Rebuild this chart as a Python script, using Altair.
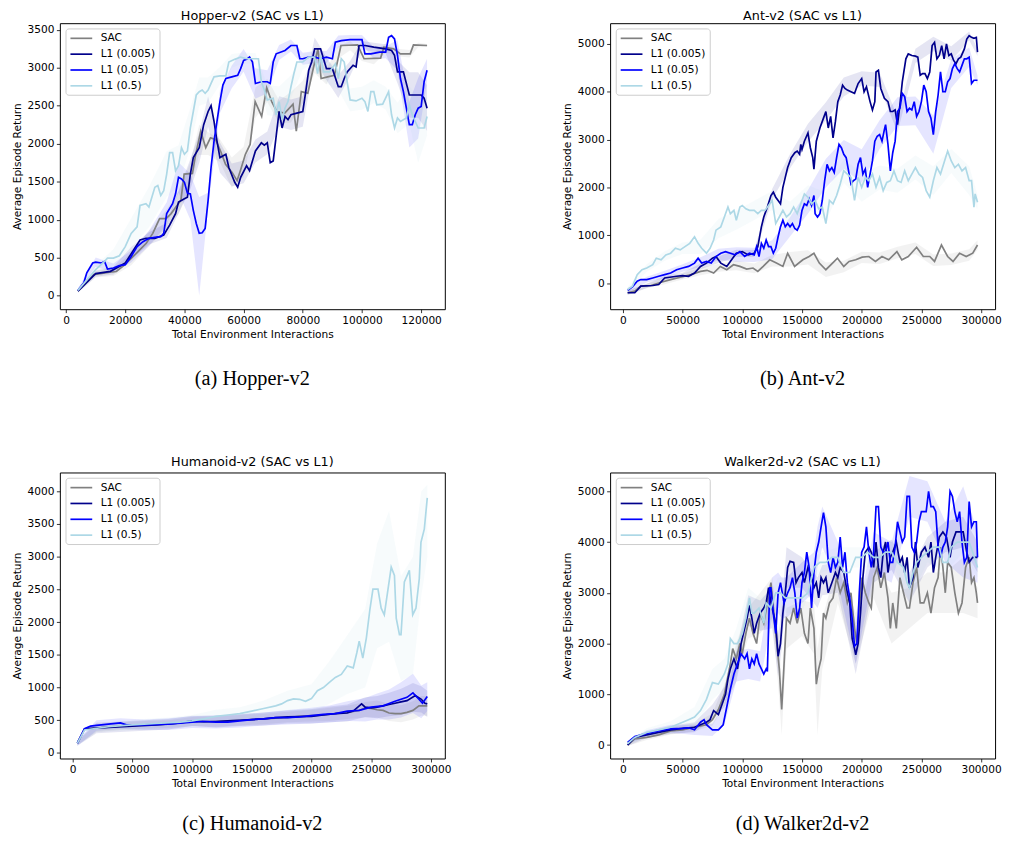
import altair as alt
import pandas as pd

SERIES = ["SAC", "L1 (0.005)", "L1 (0.05)", "L1 (0.5)"]
COLORS = ["#808080", "#00008b", "#0000ff", "#add8e6"]
XTITLE = "Total Environment Interactions"
YTITLE = "Average Episode Return"

HOP_SAC = [(4,60),(9.3,277),(14.8,308),(17,318),(19.9,408),(23.8,560),(27.1,690),(29.3,820),(31.6,1015),
           (33.8,1015),(35.5,1080),(37.1,1167),(38.8,1253),(39.9,1600),(42.7,1609),(43.8,1860),(45.5,2164),
           (47.2,1947),(48.8,2077),(50.5,2056),(52.2,1904),(53.9,1730),(56.1,1622),(57.8,1514),(58.9,1644),
           (60.6,1860),(62.2,1990),(63.9,2554),(66.1,2359),(67.8,2737),(69.5,2554),(71.2,2424),(73.9,2403),
           (76.7,2520),(77.8,2164),(79.5,2685),(81.7,2663),(83.4,2967),(85.1,3248),(86.2,2858),(88.4,2880),
           (90.7,2901),(92.9,3292),(98.5,3300),(100.7,3118),(106.3,3127),(107.4,3270),(110.7,3248),(113,3183),
           (116.3,3183),(117.4,3300),(122,3292)]
HOP_D = [(4,60),(10,290),(15,320),(20,430),(25,733),(27,755),(30,755),(33,798),(35,928),(37,1080),(38,1232),
         (40,1275),(41,1297),(42,1600),(43,1817),(45,1947),(46.5,2251),(48,2424),(49,2502),(50,2294),(51,2034),
         (52,1817),(54,1860),(55,1687),(57,1492),(58,1427),(59,1557),(61,1709),(62,1644),(64,1904),(66,2012),
         (67,1982),(68,2012),(69,1752),(70,1774),(72,2424),(73,2207),(74,2359),(75,2316),(76,2381),(78,2403),
         (80,2424),(81,2685),(82,2967),(83,3075),(84,3248),(86,3248),(88,2988),(90,2988),(92,2750),(93,2750),
         (94,2858),(95,2945),(97,3032),(98,3010),(99,3292),(101,3292),(104,3270),(108,3248),(110,3227),
         (111,3162),(112,2945),(114,2945),(116,2641),(120,2641),(121,2598),(122,2468)]
HOP_B = [(4,70),(6,170),(7,300),(9,430),(10,442),(12,430),(13,451),(14,351),(16,364),(18,395),(20,408),
         (22,516),(24,646),(26,711),(28,755),(30,768),(32,776),(33,820),(34,1080),(36,1210),(37,1340),(38,1557),
         (39,1535),(40,1492),(41,1349),(42,1340),(43,1123),(44,950),(45,820),(46,828),(47,885),(48,1253),
         (49,1687),(50,2034),(51,2294),(52,2554),(53,2771),(54,2858),(56,2880),(58,2901),(59,2988),(60,3097),
         (61,3110),(62,3140),(63,3075),(64,2793),(66,2815),(68,2815),(69,2793),(70,3075),(71,3183),(74,3227),
         (76,3292),(78,3292),(79,3118),(80,3118),(82,3140),(84,3140),(86,3118),(88,3140),(90,3118),(91,3335),
         (93,3357),(96,3370),(100,3370),(101,3183),(103,3183),(106,3205),(108,3205),(109,3400),(110,3422),
         (111,3378),(112,3162),(113,2858),(114,2685),(115,2468),(116,2251),(117,2251),(118,2381),(119,2468),
         (120,2489),(121,2815),(122,2967)]
HOP_L = [(4,70),(8,250),(10,343),(13,451),(14,494),(16,494),(18,525),(20,646),(22,820),(24,906),(25,1188),
         (27,1210),(28,1167),(30,1427),(31,1449),(32,1318),(33,1383),(34,1600),(35,1882),(36,1882),(37,1644),
         (38,1709),(39,1947),(40,1860),(41,1904),(42,2207),(43,2424),(44,2641),(45,2685),(46,2706),(47,2663),
         (48,2706),(49,2793),(50,2880),(52,2893),(54,2893),(55,3075),(57,3110),(59,3140),(61,3118),(63,3118),
         (65,3118),(66,2815),(67,2706),(68,2576),(70,2598),(71,2381),(72,2554),(73,2316),(74,2468),(75,2554),
         (76,2750),(77,2923),(78,3075),(80,3075),(82,3140),(84,3140),(85,2923),(86,3162),(87,2945),(89,2945),
         (91,3053),(92,2858),(93,3118),(94,3075),(95,2815),(96,2576),(98,2563),(100,2598),(101,2554),(102,2424),
         (103,2685),(104,2685),(105,2511),(107,2520),(109,2685),(110,2381),(111,2207),(112,2338),(113,2294),
         (115,2338),(116,2511),(117,2381),(119,2207),(121,2207),(122,2359)]
HOP_GRID = [4,10,16,22,28,34,38,42,45,48,52,56,60,64,68,72,76,80,84,88,92,96,100,104,108,112,116,119,122]
HOP_SAC_LO = [40,240,260,400,650,895,1070,1455,1850,1850,1760,1420,1560,2340,2550,2270,2280,2530,2930,2780,
              3120,3230,3090,3047,3200,3150,3133,3270,3272]
HOP_SAC_HI = [80,320,360,560,850,1135,1370,1755,2250,2150,2060,1820,1960,2740,2850,2570,2680,2830,3170,2980,
              3280,3350,3210,3207,3320,3250,3233,3330,3312]
HOP_D_LO = [40,250,280,480,675,760,1082,1400,1747,2224,1617,1440,1480,1754,1862,2224,2181,2224,3098,2838,
            2600,2890,3232,3210,3188,2795,2341,2341,2168]
HOP_D_HI = [80,330,380,640,835,960,1382,1800,2147,2624,2017,1740,1780,2054,2162,2624,2581,2624,3398,3138,
            2900,3090,3352,3330,3308,3095,2941,2941,2768]
HOP_B_LO = [50,382,304,436,655,930,1357,1000,0,1153,2404,2730,2947,2593,2665,3100,3212,3038,3060,3060,
            3265,3310,3310,3110,3125,2962,1951,2068,2817]
HOP_B_HI = [90,502,424,596,855,1230,1757,1600,1300,1353,2704,3030,3247,2993,2965,3300,3372,3198,3220,3220,
            3425,3430,3430,3270,3285,3362,2551,2868,3117]
HOP_L_LO = [50,283,380,620,900,1300,1450,1950,2500,2540,2780,3000,3060,3050,2376,2354,2600,2975,3060,2795,
            2708,2426,2448,2535,2450,2138,2261,1750,2109]
HOP_L_HI = [90,403,610,1020,1430,1900,1980,2470,2870,2870,3010,3180,3200,3190,2776,2754,2900,3175,3220,3095,
            3008,2726,2748,2835,2750,2538,2761,2600,2609]

ANT_SAC = [(4,-200),(10,-165),(15,-62),(23.5,-48),(32,20),(40,76),(48,124),(57,179),(65,248),(70.5,269),(76,213),
           (81.6,351),(87,282),(92.6,386),(98,351),(103.7,296),(109,317),(113,248),(117.5,351),(123,489),(128.6,420),
           (134,351),(138,627),(143.8,351),(150.7,489),(156,558),(160,627),(164.5,420),(170,282),(175.6,420),
           (179.7,523),(185,351),(189.4,455),(195,489),(200.4,544),(206,558),(211.5,455),(217,558),(222.6,489),
           (229.5,661),(233.6,489),(239,558),(246,751),(251.6,558),(257,558),(261,455),(266.8,799),(272,558),
           (276.5,455),(282,627),(287.5,558),(293,627),(297,799)]
ANT_D = [(4,-200),(10,-200),(15,-62),(25,-48),(30,-28),(35,110),(45,145),(50,158),(55,145),(60,213),(65,351),
         (70,420),(75,523),(78,558),(82,420),(87,351),(90,455),(95,627),(100,661),(105,592),(110,627),(113,764),
         (116,1178),(118,1384),(121,1591),(124,1832),(126,1901),(128,1797),(130,1729),(132,1660),(134,2004),
         (136,2211),(138,2417),(141,2624),(144,2727),(146,2762),(148,2693),(149,2900),(150,2796),(152,2968),
         (155,3140),(157,2831),(159,2624),(160,2383),(162,2968),(165,3244),(168,3450),(170,3588),(172,3244),
         (174,3485),(176,3037),(178,3381),(180,3795),(182,3933),(184,4139),(186,4070),(188,4036),(191,4001),
         (194,3967),(197,4173),(200,4277),(202,4001),(204,4105),(207,3795),(209,3622),(211,3795),(212,4415),
         (214,4449),(216,4070),(219,3864),(222,3795),(224,3588),(226,3588),(228,3622),(230,3313),(232,3726),
         (234,4208),(237,4690),(239,4793),(242,4759),(245,4745),(247,4724),(249,4346),(251,4380),(253,4380),
         (255,4277),(257,4415),(259,4966),(261,5034),(263,4690),(265,4759),(267,4966),(269,4690),(271,5000),
         (273,4759),(275,4793),(277,4656),(279,4587),(281,4690),(283,4724),(286,4897),(288,5103),(290,5172),
         (292,5138),(294,5117),(296,5138),(297,4828)]
ANT_B = [(4,-150),(8,-76),(12,41),(15,76),(20,76),(25,110),(30,145),(35,179),(40,213),(45,282),(50,317),(55,351),
         (60,420),(63,523),(66,420),(70,455),(74,420),(78,558),(82,627),(86,661),(90,627),(94,592),(98,661),
         (102,558),(106,627),(110,592),(112,764),(114,558),(116,833),(118,730),(120,902),(122,764),(124,764),
         (126,627),(128,730),(130,971),(132,1178),(134,1315),(136,1178),(138,1247),(140,1178),(142,1247),
         (144,1143),(146,1109),(148,1212),(150,1522),(152,1660),(154,1625),(156,1763),(158,1625),(160,1832),
         (161,1453),(163,1384),(165,1453),(167,1729),(169,2142),(171,2486),(173,2348),(175,2417),(177,2314),
         (179,2624),(181,2900),(183,2831),(185,2693),(187,2624),(189,2348),(191,2073),(193,2142),(195,2176),
         (197,2486),(199,2624),(201,2280),(203,2383),(205,2004),(207,2280),(209,2555),(211,2968),(213,3072),
         (215,3106),(217,2968),(219,3209),(220,3313),(222,2900),(224,2348),(226,2727),(228,2968),(230,3588),
         (232,3657),(234,3967),(236,3898),(238,3588),(240,3657),(242,3622),(244,3795),(246,3485),(248,3588),
         (250,3795),(252,4139),(254,4001),(256,3588),(258,3450),(260,3106),(262,3588),(264,3933),(266,4415),
         (268,4001),(270,4001),(272,4208),(274,4277),(276,4484),(278,4587),(280,4484),(282,4415),(284,4553),
         (286,4690),(288,4690),(290,4724),(292,4173),(294,4242),(297,4242)]
ANT_L = [(4,-130),(8,-62),(12,179),(16,282),(20,317),(25,386),(28,523),(32,489),(36,592),(40,627),(44,730),
         (48,696),(52,764),(56,833),(60,971),(63,833),(66,730),(70,627),(73,730),(76,902),(78,1109),(82,1178),
         (85,1384),(88,1591),(90,1453),(93,1522),(95,1315),(98,1591),(100,1625),(103,1556),(106,1522),(110,1522),
         (113,1453),(116,1522),(119,1522),(122,1625),(125,1729),(128,1247),(131,1384),(134,1522),(137,1384),
         (140,1453),(143,1591),(146,1453),(149,1660),(152,1866),(155,1797),(158,1660),(161,1729),(164,1556),
         (167,1591),(170,1247),(173,1729),(176,1660),(179,1832),(182,2073),(185,2348),(188,2280),(191,2211),
         (194,1729),(197,2211),(200,2004),(203,2211),(206,2142),(209,2280),(212,2004),(215,2211),(218,1935),
         (221,2107),(224,2142),(227,2348),(230,2142),(233,2107),(236,2348),(239,2142),(242,2280),(245,2417),
         (248,2280),(251,2211),(254,1935),(257,1797),(260,2142),(263,2417),(266,2280),(269,2521),(272,2762),
         (275,2555),(278,2417),(281,2486),(284,2348),(287,2417),(290,2142),(292,2142),(294,1591),(295,1866),
         (297,1694)]
ANT_GRID = [4,20,35,50,65,80,95,110,125,140,155,170,185,200,215,230,245,260,275,290,297]
ANT_SAC_LO = [-250,-105,-20,80,168,240,270,210,350,350,390,132,231,420,400,520,610,360,380,470,699]
ANT_SAC_HI = [-150,-5,100,200,328,400,470,410,590,650,690,432,471,660,640,760,850,600,620,710,899]
ANT_D_LO = [-240,-100,70,100,290,420,550,550,1750,2400,2950,3400,3900,4130,4100,3150,4600,4850,4650,5080,4750]
ANT_D_HI = [-160,-10,150,220,410,560,700,700,1970,2700,3330,3780,4300,4430,4400,3480,4900,5150,4950,5260,4900]
ANT_B_LO = [-200,16,99,237,340,480,450,442,500,978,1450,2000,2393,2100,2806,3288,3300,2706,4080,4524,4142]
ANT_B_HI = [-100,136,259,397,540,720,750,742,900,1378,1950,2600,2993,2800,3406,3888,3900,3506,4680,4924,4342]
ANT_L_LO = [-180,237,470,610,610,940,1115,1322,1529,1203,1547,1300,2098,1704,1961,1892,2167,1842,2305,1842,1544]
ANT_L_HI = [-80,397,670,850,910,1340,1515,1722,1929,1703,2047,1900,2598,2304,2461,2392,2667,2442,2805,2442,1844]

HUM_SAC = [(4,150),(10,370),(20,380),(40,410),(60,430),(80,440),(90,460),(100,480),(110,470),(120,480),(130,490),
           (140,500),(150,510),(160,520),(170,530),(180,540),(190,560),(200,570),(210,580),(220,600),(230,620),
           (240,650),(245,690),(250,680),(255,660),(260,650),(265,610),(270,600),(275,600),(280,620),(285,650),
           (290,720),(297,720)]
HUM_D = [(4,150),(10,370),(30,390),(50,410),(70,430),(90,460),(100,490),(110,480),(120,480),(130,490),(140,500),
         (150,510),(160,520),(170,540),(180,550),(190,555),(200,560),(210,580),(220,600),(230,610),(235,640),
         (242,750),(245,700),(250,690),(255,700),(260,720),(265,740),(270,760),(275,780),(280,800),(287,877),
         (292,820),(295,760),(297,750)]
HUM_B = [(4,150),(10,370),(15,410),(20,420),(30,440),(40,460),(45,430),(60,430),(80,440),(100,470),(110,480),
         (120,470),(130,470),(140,490),(150,510),(160,520),(170,540),(180,540),(190,550),(200,570),(210,590),
         (220,600),(230,640),(240,650),(250,700),(260,720),(270,790),(280,850),(285,917),(290,820),(293,760),
         (297,861)]
HUM_L = [(4,150),(10,350),(30,400),(50,430),(70,450),(90,470),(100,490),(110,520),(120,560),(130,580),(140,600),
         (150,640),(160,680),(170,720),(175,750),(180,800),(185,826),(190,820),(195,790),(200,830),(205,952),
         (210,1000),(215,1080),(220,1154),(225,1200),(230,1330),(235,1300),(238,1531),(240,1708),(243,1450),
         (246,1760),(249,2200),(251.5,2504),(255.7,2504),(258.4,2212),(261,2111),(262.6,2312),(265.4,2665),
         (266.8,2841),(269.5,2715),(271,2060),(273.7,1809),(275,1809),(277.8,2615),(282,2791),(284.8,2111),
         (287.5,2212),(290.3,2665),(291.7,3219),(294.5,3420),(297,3900)]
HUM_GRID = [4,20,40,60,80,100,120,140,160,180,200,215,230,245,255,265,275,285,292,297]
HUM_SAC_LO = [120,320,350,370,380,410,400,420,440,470,480,490,520,540,540,490,470,510,570,570]
HUM_SAC_HI = [180,440,470,490,500,550,560,580,600,630,660,690,720,780,800,750,730,790,870,870]
HUM_D_LO = [110,300,320,340,360,410,390,410,420,450,450,470,480,550,530,560,580,630,620,550]
HUM_D_HI = [190,460,480,500,520,570,570,590,620,650,670,710,740,850,870,920,980,1070,1020,950]
HUM_B_LO = [110,340,370,350,350,380,375,390,420,435,450,465,490,480,510,510,540,610,530,640]
HUM_B_HI = [190,500,530,510,530,560,575,590,620,655,690,725,790,840,910,970,1080,1210,1030,1080]
HUM_L_LO = [110,320,340,360,380,400,460,500,560,650,600,750,900,1000,1600,1700,1100,1200,2400,3000]
HUM_L_HI = [190,440,480,520,540,580,660,700,800,950,1050,1400,1800,2200,3200,3700,2700,3000,4000,4100]

WAL_SAC = [(4,0),(10,120),(20,150),(30,200),(40,280),(50,300),(60,350),(70,400),(75,500),(80,700),(85,1000),
           (90,1600),(92,1900),(95,1700),(98,2000),(100,1800),(103,2200),(106,2500),(109,2200),(112,2000),
           (115,2600),(118,2400),(121,2800),(124,3200),(126,2700),(128,2200),(131,1500),(133,700),(135,1600),
           (137,2500),(140,2400),(143,2700),(146,2400),(149,2700),(152,2200),(155,2000),(157,2700),(160,2300),
           (162,1200),(164,1500),(166,1700),(168,2600),(170,2500),(173,2800),(176,2900),(179,3300),(182,3000),
           (185,3200),(188,2800),(191,3000),(194,2300),(196,2000),(198,2700),(200,3300),(203,3000),(206,2800),
           (208,2700),(210,3300),(213,3500),(216,3100),(219,3400),(222,2900),(224,2300),(226,2800),(229,2300),
           (232,3300),(235,3000),(238,2700),(240,2700),(243,3200),(246,3500),(249,2800),(252,2800),(255,3000),
           (258,2600),(261,3100),(264,3300),(266,3900),(268,3500),(270,3000),(272,3600),(275,3500),(278,3000),
           (281,2600),(284,2800),(287,3500),(290,3700),(292,3200),(294,3300),(296,3000),(297,2800)]
WAL_D = [(4,0),(10,150),(20,200),(30,250),(40,300),(50,330),(60,350),(65,400),(70,450),(73,500),(76,680),(80,600),
         (83,800),(86,1000),(88,1300),(90,1500),(93,1700),(96,1500),(99,2000),(102,2300),(104,2500),(106,2750),
         (108,2500),(110,2200),(112,2400),(115,2600),(118,2700),(120,2800),(122,3100),(124,2800),(126,2600),
         (128,2400),(130,1750),(132,2000),(134,2600),(136,3000),(138,3500),(140,3620),(143,3600),(145,3200),
         (147,3300),(150,3400),(152,3200),(155,3500),(158,3300),(160,3100),(162,3200),(164,2900),(166,3300),
         (168,3200),(170,3300),(172,3000),(175,3200),(178,3400),(180,3300),(182,3500),(185,3400),(188,3000),
         (190,2800),(192,2100),(194,1900),(195,1780),(197,2000),(199,2600),(201,3300),(203,3800),(206,3900),
         (208,3800),(210,3500),(212,4000),(214,3500),(216,3300),(218,3800),(220,4000),(222,3400),(224,3700),
         (226,3800),(229,4000),(232,3600),(234,3700),(236,3400),(238,3700),(240,3100),(243,3300),(245,4000),
         (247,3500),(250,3800),(253,3900),(256,3700),(258,4000),(260,3400),(262,3700),(265,4100),(268,4200),
         (271,4100),(274,3700),(276,4000),(279,4200),(282,4200),(285,4200),(288,3800),(290,3600),(293,3700),
         (296,3700),(297,3700)]
WAL_B = [(4,50),(10,170),(20,230),(30,280),(40,320),(50,330),(55,340),(60,300),(65,450),(68,500),(70,400),
         (75,300),(80,300),(84,400),(87,750),(90,1100),(93,1400),(96,1600),(99,1800),(102,1700),(104,1800),
         (106,1500),(108,1700),(110,1600),(112,1800),(114,1600),(116,1500),(118,1400),(120,1500),(121,1450),
         (123,3100),(124,3100),(126,2600),(128,2200),(130,3000),(132,3200),(135,2800),(138,3000),(140,3100),
         (142,3300),(144,3000),(146,2500),(148,2700),(150,3200),(152,3400),(154,3800),(156,3500),(158,2700),
         (160,3400),(162,3800),(164,4000),(166,4300),(168,4580),(170,4300),(172,3600),(174,3400),(176,3700),
         (178,3500),(180,3600),(182,4100),(184,3500),(186,3800),(188,3200),(190,2900),(192,2500),(194,1950),
         (196,2000),(198,3000),(200,3800),(202,3900),(204,4300),(206,3800),(208,3500),(210,3800),(212,4700),
         (214,4700),(216,3900),(218,3800),(220,3800),(222,4000),(224,3600),(226,3600),(228,3900),(230,4400),
         (232,4200),(234,4000),(236,4100),(238,4900),(240,4900),(242,3900),(244,3800),(246,4000),(248,4400),
         (250,4600),(252,4600),(254,4600),(256,5000),(258,4700),(260,4700),(262,4600),(264,3900),(266,3700),
         (268,3900),(270,4000),(272,4300),(274,5000),(276,4900),(278,4600),(280,4400),(282,4600),(284,4000),
         (286,3600),(288,3700),(290,4800),(292,4300),(294,4400),(296,4400),(297,3700)]
WAL_L = [(4,30),(10,150),(20,250),(30,300),(40,350),(50,450),(55,500),(60,550),(65,680),(70,900),(75,1230),
         (80,1200),(85,1400),(88,1600),(90,2100),(93,2000),(96,2000),(100,2200),(103,2500),(106,2900),(108,2600),
         (110,2600),(114,2700),(118,2400),(120,2800),(124,2700),(128,3000),(132,3000),(136,2900),(140,2900),
         (145,2900),(150,2900),(155,3000),(160,3500),(165,3600),(170,3600),(175,3700),(180,3700),(185,3400),
         (190,3400),(195,3700),(200,3700),(205,3800),(210,3700),(215,3700),(220,3800),(225,3800),(230,3600),
         (235,3500),(238,3200),(240,3100),(243,3400),(246,3600),(250,3700),(255,3800),(260,3900),(265,3900),
         (268,3600),(272,3600),(275,3900),(280,4000),(285,4000),(290,4000),(293,3800),(297,3500)]
WAL_GRID = [4,20,40,60,75,85,95,105,115,125,130,133,137,150,160,163,167,180,195,210,225,240,255,270,285,297]
WAL_SAC_LO = [-20,100,210,270,380,800,1400,2100,2200,2500,1200,200,1900,2150,1800,200,1500,2800,1600,2900,
              2000,2300,2600,2600,2600,2500]
WAL_SAC_HI = [20,200,350,430,620,1200,2000,2700,3000,3300,2400,1200,2700,2850,2800,1900,2500,3600,2600,3700,
              3000,3100,3400,3400,3700,3100]
WAL_D_LO = [-20,140,220,250,500,750,1250,2350,2250,2300,1350,1900,3100,3100,2800,2700,2950,3000,1400,3200,
            3450,2800,3500,3800,3900,3400]
WAL_D_HI = [20,260,380,450,800,1150,1850,2950,2850,3100,2150,2700,3900,3700,3400,3300,3550,3600,2200,3800,
            4050,3400,4100,4400,4500,4000]
WAL_B_LO = [20,170,240,200,180,400,1250,1300,1250,2500,2600,2500,2500,2800,3000,3500,3900,3200,1600,3400,
            3200,4500,4400,3600,3300,3200]
WAL_B_HI = [80,290,400,400,420,800,1850,1900,1850,3300,3400,3300,3300,3600,3800,4300,4700,4000,2400,4200,
            4000,5300,5200,4400,5100,4200]
WAL_L_LO = [0,170,230,350,900,1100,1700,2500,2300,2450,2700,2700,2600,2600,3300,3350,3400,3500,3500,3500,
            3600,2850,3600,3400,3800,3300]
WAL_L_HI = [60,330,470,750,1500,1700,2300,3100,2900,3050,3300,3300,3200,3200,3700,3750,3800,3900,3900,3900,
            4000,3350,4000,3800,4200,3700]

HOP_XTICKS = [0, 20000, 40000, 60000, 80000, 100000, 120000]
BIG_XTICKS = [0, 50000, 100000, 150000, 200000, 250000, 300000]
HOP_YTICKS = [0, 500, 1000, 1500, 2000, 2500, 3000, 3500]
ANT_YTICKS = [0, 1000, 2000, 3000, 4000, 5000]
HUM_YTICKS = [0, 500, 1000, 1500, 2000, 2500, 3000, 3500, 4000]
WAL_YTICKS = [0, 1000, 2000, 3000, 4000, 5000]

W, H = 389, 289


def make_lines(series):
    rows = []
    for name, pts in zip(SERIES, series):
        for x, y in pts:
            rows.append({"x": x * 1000, "y": y, "series": name})
    return pd.DataFrame(rows)


def make_bands(grid, los, his):
    rows = []
    for name, col, lo, hi in zip(SERIES, COLORS, los, his):
        for x, a, b in zip(grid, lo, hi):
            rows.append({"x": x * 1000, "lo": a, "hi": b, "band": name, "bandcolor": col})
    return pd.DataFrame(rows)


def legend():
    return alt.Legend(
        title=None, orient="none", legendX=5.7, legendY=5.3,
        symbolType="M-2,0H2", symbolSize=121, symbolStrokeWidth=1.7, symbolOffset=6,
        labelOffset=13, labelFont="DejaVu Sans", labelFontSize=10.7, labelColor="black",
        padding=3.5, rowPadding=4, strokeColor="#cccccc",
        fillColor="rgba(255,255,255,0.8)", cornerRadius=3, labelLimit=200,
    )


def panel(title, caption, lines, bands, xdom, ydom, xticks, yticks, title_offset, cap_dy):
    xs = alt.Scale(domain=xdom, nice=False, zero=False)
    ys = alt.Scale(domain=ydom, nice=False, zero=False)
    xax = alt.Axis(values=xticks, format="d", title=XTITLE, labelFlush=False)
    yax = alt.Axis(values=yticks, format="d", title=YTITLE)
    band = alt.Chart(bands).mark_area(opacity=0.1, clip=True).encode(
        x=alt.X("x:Q", scale=xs, axis=xax),
        y=alt.Y("lo:Q", scale=ys, axis=yax),
        y2=alt.Y2("hi:Q"),
        fill=alt.Fill("bandcolor:N", scale=None),
        detail="band:N",
    )
    line = alt.Chart(lines).mark_line(strokeWidth=1.7, clip=True).encode(
        x=alt.X("x:Q", scale=xs, axis=xax),
        y=alt.Y("y:Q", scale=ys, axis=yax),
        color=alt.Color("series:N", scale=alt.Scale(domain=SERIES, range=COLORS), legend=legend()),
    )
    cap = alt.Chart(pd.DataFrame({"caption": [caption]})).mark_text(
        font="Liberation Serif", fontSize=20.5, align="center", baseline="middle", color="black"
    ).encode(text="caption:N", x=alt.value(W / 2), y=alt.value(H + cap_dy))
    return alt.layer(band, line, cap).properties(
        width=W, height=H,
        title=alt.TitleParams(title, font="DejaVu Sans", fontSize=12.9, fontWeight="normal",
                              color="black", anchor="middle", offset=title_offset),
    )


pa = panel("Hopper-v2 (SAC vs L1)", "(a) Hopper-v2",
           make_lines([HOP_SAC, HOP_D, HOP_B, HOP_L]),
           make_bands(HOP_GRID, [HOP_SAC_LO, HOP_D_LO, HOP_B_LO, HOP_L_LO], [HOP_SAC_HI, HOP_D_HI, HOP_B_HI, HOP_L_HI]),
           [-2100, 128000], [-178, 3586], HOP_XTICKS, HOP_YTICKS, 0.5, 71)
pb = panel("Ant-v2 (SAC vs L1)", "(b) Ant-v2",
           make_lines([ANT_SAC, ANT_D, ANT_B, ANT_L]),
           make_bands(ANT_GRID, [ANT_SAC_LO, ANT_D_LO, ANT_B_LO, ANT_L_LO], [ANT_SAC_HI, ANT_D_HI, ANT_B_HI, ANT_L_HI]),
           [-10700, 311700], [-543, 5434], BIG_XTICKS, ANT_YTICKS, 0.5, 71)
pc = panel("Humanoid-v2 (SAC vs L1)", "(c) Humanoid-v2",
           make_lines([HUM_SAC, HUM_D, HUM_B, HUM_L]),
           make_bands(HUM_GRID, [HUM_SAC_LO, HUM_D_LO, HUM_B_LO, HUM_L_LO], [HUM_SAC_HI, HUM_D_HI, HUM_B_HI, HUM_L_HI]),
           [-10700, 311700], [-85, 4287], BIG_XTICKS, HUM_YTICKS, 4, 66)
pdd = panel("Walker2d-v2 (SAC vs L1)", "(d) Walker2d-v2",
            make_lines([WAL_SAC, WAL_D, WAL_B, WAL_L]),
            make_bands(WAL_GRID, [WAL_SAC_LO, WAL_D_LO, WAL_B_LO, WAL_L_LO], [WAL_SAC_HI, WAL_D_HI, WAL_B_HI, WAL_L_HI]),
            [-10700, 311700], [-265, 5371], BIG_XTICKS, WAL_YTICKS, 4, 66)

row1 = alt.hconcat(pa, pb, spacing=116).resolve_scale(color="independent").resolve_legend(color="independent")
row2 = alt.hconcat(pc, pdd, spacing=110).resolve_scale(color="independent").resolve_legend(color="independent")
chart = alt.vconcat(row1, row2, spacing=65).resolve_scale(color="independent").resolve_legend(
    color="independent"
).properties(
    padding={"left": 2.4, "top": -3, "right": 0, "bottom": 0}
).configure_view(
    stroke="black", strokeWidth=1
).configure_axis(
    labelFont="DejaVu Sans", labelFontSize=10.7, labelColor="black",
    titleFont="DejaVu Sans", titleFontSize=10.7, titleFontWeight="normal", titleColor="black",
    tickColor="black", tickSize=3.5, tickWidth=0.8, domain=False, grid=False, labelPadding=2.5,
).configure_axisX(titlePadding=5).configure_axisY(titlePadding=5)

chart.save("out.html", embed_options={"renderer": "svg", "actions": False})
